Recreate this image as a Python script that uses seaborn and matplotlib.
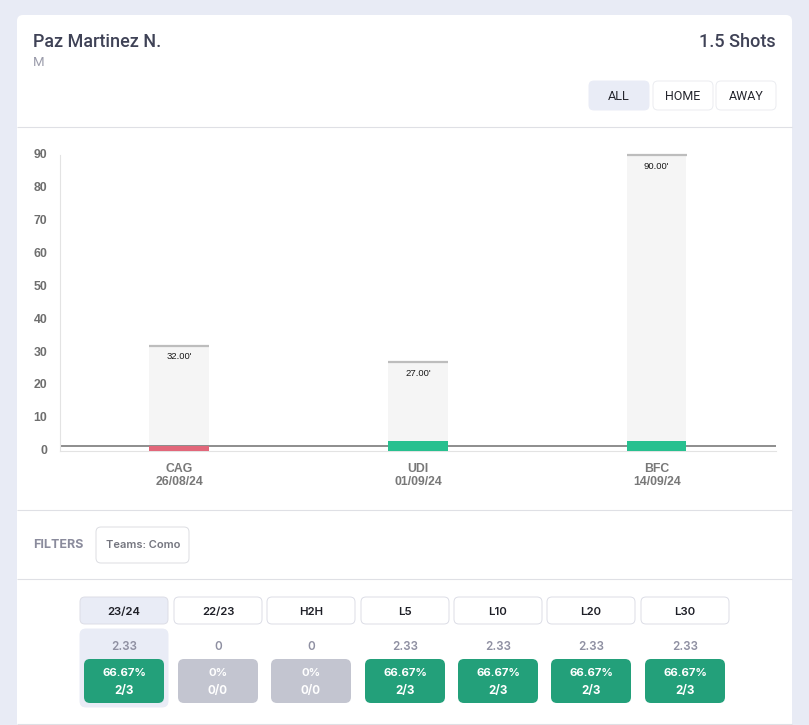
import matplotlib
matplotlib.use('Agg')
import matplotlib.pyplot as plt
from matplotlib.patches import FancyBboxPatch
from matplotlib.transforms import ScaledTranslation
import pandas as pd
import seaborn as sns

# values
opponents = ['CAG', 'UDI', 'BFC']
dates = ['26/08/24', '01/09/24', '14/09/24']
minutes = [32, 27, 90]
shots = [1.6, 3, 3]
shot_colors = ['#e2677a', '#27c08f', '#27c08f']
line_value = 1.5
y_ticks = [0, 10, 20, 30, 40, 50, 60, 70, 80, 90]

periods = ['23/24', '22/23', 'H2H', 'L5', 'L10', 'L20', 'L30']
averages = ['2.33', '0', '0', '2.33', '2.33', '2.33', '2.33']
hit_rates = ['66.67%', '0%', '0%', '66.67%', '66.67%', '66.67%', '66.67%']
hit_counts = ['2/3', '0/0', '0/0', '2/3', '2/3', '2/3', '2/3']

W, H = 809, 725
sns.set_theme(style='white')
plt.rcParams['font.family'] = ['Roboto', 'DejaVu Sans']

fig = plt.figure(figsize=(W / 100, H / 100), dpi=100, facecolor='#e8ebf5')

# page layer, in pixels
bg = fig.add_axes([0, 0, 1, 1])
bg.set_xlim(0, W)
bg.set_ylim(H, 0)
bg.axis('off')


def box(x0, y0, x1, y1, face='white', edge='#ebecf0', r=5, lw=0.7, z=2):
    bg.add_patch(FancyBboxPatch((x0 + r, y0 + r), x1 - x0 - 2 * r, y1 - y0 - 2 * r,
                                boxstyle=f'round,pad={r},rounding_size={r}',
                                fc=face, ec=edge, lw=lw, zorder=z))


def label(x, y, s, size, color, ha='center', weight='normal', family='Roboto'):
    bg.text(x, y + 0.7, s, fontsize=size, color=color, ha=ha, va='center', fontweight=weight,
            family=[family, 'DejaVu Sans'], zorder=5)


box(17, 15, 792, 760, edge='none', r=6, z=1)
for y in [127, 510, 579, 724]:
    bg.plot([17, 792], [y, y], color='#dfe0e5', lw=0.8, zorder=2, solid_capstyle='butt')

# header
label(33, 41, 'Paz Martinez N.', 13, '#3f4256', ha='left', weight='medium')
label(776, 41, '1.5 Shots', 13, '#3f4256', ha='right', weight='medium')
label(33, 62, 'M', 9.5, '#9b9cab', ha='left')

box(589, 81, 649, 110, face='#e9ecf6', edge='#e9ecf6')
box(653, 81, 713, 110)
box(716, 81, 776, 110)
label(619, 96, 'ALL', 9.2, '#25262e')
label(683, 96, 'HOME', 9, '#25262e')
label(746, 96, 'AWAY', 9, '#25262e')

# filters
label(33, 544, 'FILTERS', 9, '#8a8b9c', ha='left', weight='bold', family='Inter')
box(96, 527, 189, 563, edge='#dcdde2')
label(143, 544.5, 'Teams: Como', 8, '#74757f', weight='semibold', family='Inter')

# period table
tab_x = [(80, 168), (174, 262), (267, 355), (361, 449), (454, 542), (547, 635), (641, 729)]
box(80, 629, 168, 707, face='#e9ecf6', edge='#e9ecf6', r=6)
for i, (x0, x1) in enumerate(tab_x):
    active = i == 0
    box(x0, 597, x1, 624, face='#e9ecf6' if active else 'white', edge='#dcdde6')
    mid = (x0 + x1) / 2
    label(mid, 611, periods[i], 8.2, '#1f2028', weight='semibold', family='Inter')
    label(mid, 646, averages[i], 8.4, '#8f90a2', weight='semibold', family='Inter')
    won = hit_counts[i] != '0/0'
    box(mid - 40, 659, mid + 40, 703, face='#23a07a' if won else '#c3c5d0', edge='none', r=6)
    label(mid, 672, hit_rates[i], 8.2, 'white', weight='bold', family='Inter')
    label(mid, 690, hit_counts[i], 8.4, 'white', weight='bold', family='Inter')

# chart
ax = fig.add_axes([60 / W, 1 - 451 / H, 716 / W, 296 / H])
ax.patch.set_alpha(0)
df = pd.DataFrame({'opponent': opponents, 'minutes': minutes, 'shots': shots})
sns.barplot(data=df, x='opponent', y='minutes', color='#f5f5f5', saturation=1, width=0.25,
            linewidth=0, ax=ax)
n_grey = len(ax.patches)
sns.barplot(data=df, x='opponent', y='shots', hue='opponent', palette=shot_colors, saturation=1,
            width=0.25, linewidth=0, legend=False, ax=ax)

# threshold line sits between the minutes bars and the shots bars
for p in ax.patches[n_grey:]:
    p.set_zorder(3)

for i, p in enumerate(ax.patches[:n_grey]):
    top = p.get_height()
    ax.plot([p.get_x(), p.get_x() + p.get_width()], [top, top], color='#bdbdbd', lw=1.6,
            solid_capstyle='butt', zorder=4, clip_on=False)
    ax.annotate(f'{minutes[i]:.2f}\'', (p.get_x() + p.get_width() / 2, top), xytext=(0, -8),
                textcoords='offset points', ha='center', va='center', fontsize=6.8,
                color='#1a1a1a', family=['Liberation Sans', 'DejaVu Sans'])

ax.axhline(line_value, color='#6f6f6f', lw=1.1, zorder=2)
ax.set_xlim(-0.5, 2.5)
ax.set_ylim(0, 90)
ax.set_yticks(y_ticks)
ax.set_xticks(range(len(opponents)))
ax.set_xticklabels([f'{o}\n{d}' for o, d in zip(opponents, dates)])
ax.set_xlabel('')
ax.set_ylabel('')
ax.tick_params(axis='both', length=0)
ax.tick_params(axis='y', pad=9)
ax.tick_params(axis='x', pad=9)
nudge = ScaledTranslation(0, 1.3 / 100, fig.dpi_scale_trans)
for t in ax.get_yticklabels():
    t.set_transform(t.get_transform() + nudge)
    t.set_fontfamily(['Liberation Sans', 'DejaVu Sans'])
    t.set_fontsize(8.8)
    t.set_fontweight('bold')
    t.set_color('#6e6e6e')
for t in ax.get_xticklabels():
    t.set_fontfamily(['Liberation Sans', 'DejaVu Sans'])
    t.set_fontsize(8.8)
    t.set_fontweight('bold')
    t.set_color('#787878')
    t.set_linespacing(1.05)
sns.despine(ax=ax)
ax.spines['left'].set_color('#e3e3e3')
ax.spines['bottom'].set_color('#e3e3e3')
ax.spines['left'].set_linewidth(0.8)
ax.spines['bottom'].set_linewidth(0.8)

fig.savefig('out.png', dpi=100, facecolor=fig.get_facecolor())
